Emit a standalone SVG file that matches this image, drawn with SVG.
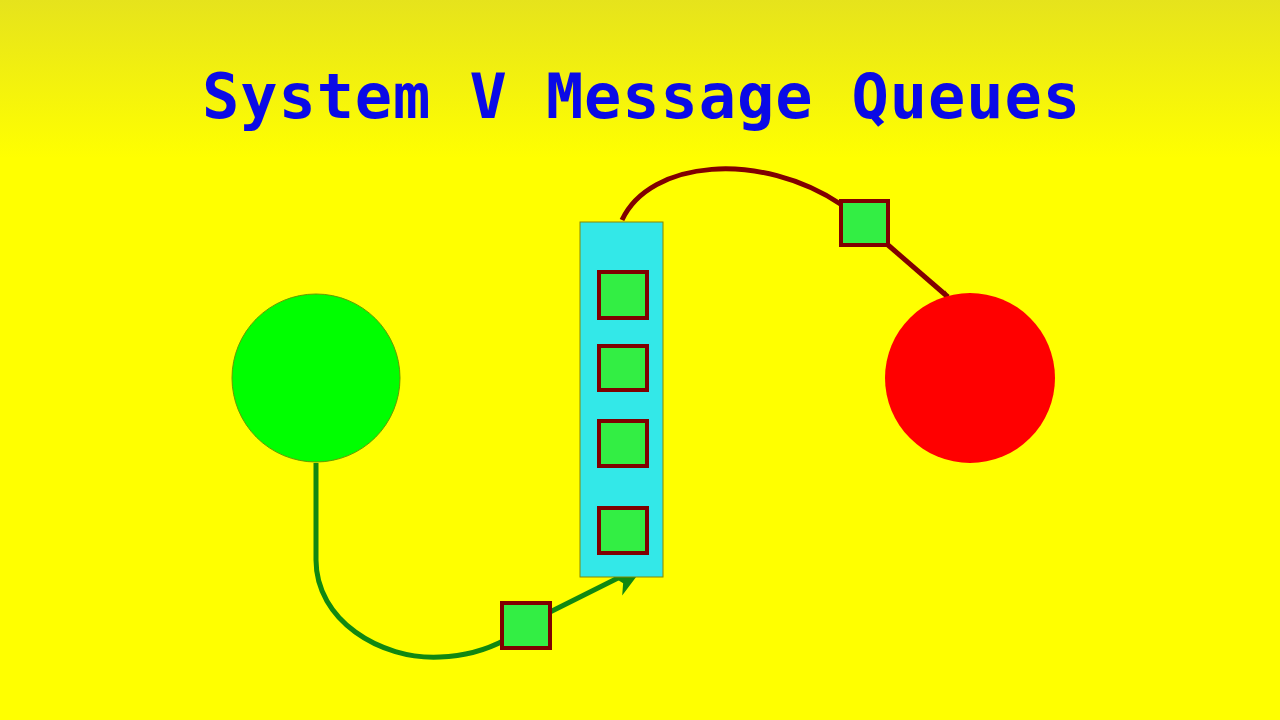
<svg xmlns="http://www.w3.org/2000/svg" width="1280" height="720" viewBox="0 0 1280 720">
<defs>
<linearGradient id="bg" x1="0" y1="0" x2="0" y2="1">
<stop offset="0" stop-color="#e6e31c"/><stop offset="0.22" stop-color="#ffff00"/><stop offset="1" stop-color="#ffff00"/>
</linearGradient>
<marker id="ag" viewBox="0 0 10 10" refX="9" refY="5" markerWidth="7" markerHeight="7" markerUnits="userSpaceOnUse" orient="auto" style="overflow:visible"><path d="M0,0 L10,5 L0,10 L3,5 Z" fill="#118811" transform="scale(3)"/></marker>
<marker id="ar" viewBox="0 0 10 10" refX="9" refY="5" markerWidth="7" markerHeight="7" markerUnits="userSpaceOnUse" orient="auto" style="overflow:visible"><path d="M0,0 L10,5 L0,10 L3,5 Z" fill="#800000" transform="scale(3)"/></marker>
</defs>
<style>
.msg{fill:#33ee44;stroke:#800000;stroke-width:4}
</style>
<rect width="1280" height="720" fill="url(#bg)"/>
<text x="202" y="118" font-family="DejaVu Sans Mono, monospace" font-weight="bold" font-size="62" fill="#0a0ae6" textLength="878" lengthAdjust="spacing">System V Message Queues</text>
<g id="connectors" fill="none" stroke-width="5">
<path d="M316,463 L316,560 C316,620 380,660 440,657 C470,656 490,648 505,640" stroke="#118811"/>
<path d="M550,612 L620,577" stroke="#118811" marker-end="url(#ag)" stroke-width="5"/>
<path d="M622,220 C650,160 760,150 842,205" stroke="#800000"/>
<path d="M888,245 L948,297" stroke="#800000" marker-end="url(#ar)"/>
</g>
<g id="sender"><circle cx="316" cy="378" r="84" fill="#00ff00" stroke="#6a9a00" stroke-width="1"/></g>
<g id="receiver"><circle cx="970" cy="378" r="85" fill="#ff0000"/></g>
<g id="queue">
<rect x="580" y="222" width="83" height="355" fill="#33e8e8" stroke="#888800" stroke-width="1"/>
<rect class="msg" x="599" y="272" width="48" height="46"/>
<rect class="msg" x="599" y="346" width="48" height="44"/>
<rect class="msg" x="599" y="421" width="48" height="45"/>
<rect class="msg" x="599" y="508" width="48" height="45"/>
</g>
<g id="msg-in"><rect class="msg" x="502" y="603" width="48" height="45"/></g>
<g id="msg-out"><rect class="msg" x="841" y="201" width="47" height="44"/></g>
</svg>
